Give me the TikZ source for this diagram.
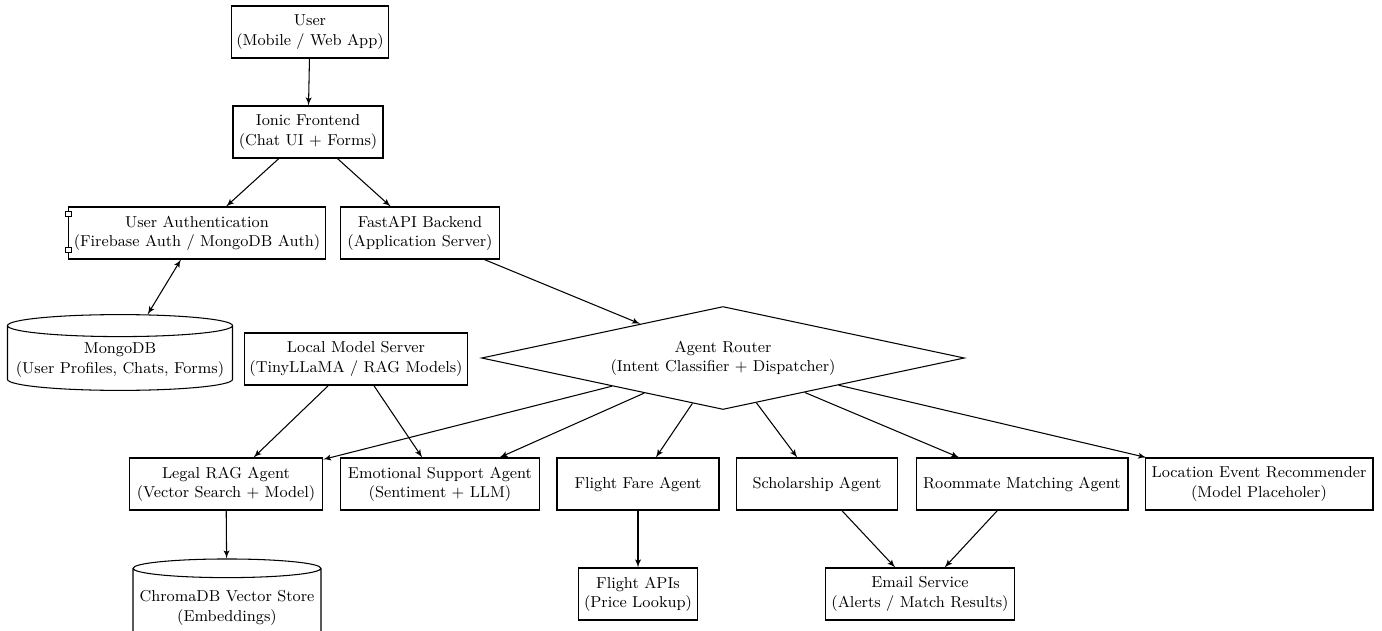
\documentclass[tikz,border=0pt]{standalone}
\usepackage{tikz}
\usetikzlibrary{arrows, shapes.geometric}
\tikzstyle{blk}=[draw, semithick, fill=white, font=\small, align=center, minimum height=1.04cm, inner xsep=0.1cm]
\tikzstyle{db}=[draw, semithick, cylinder, shape border rotate=90, aspect=0.1, font=\small, align=center]
\tikzstyle{router}=[draw, semithick, diamond, aspect=4.7, inner sep=0pt, font=\small, align=center, minimum width=9.66cm, minimum height=2.06cm]

\begin{document}
\begin{tikzpicture}[x=0.02cm,y=-0.02cm,auto,>=latex',semithick]
  \useasboundingbox (0,0) rectangle (1382,630);
  % top
  \node [blk, minimum width=3.08cm] (user) at (310,32) {User\\(Mobile / Web App)};
  \node [blk, minimum width=3cm] (ionic) at (308,132) {Ionic Frontend\\(Chat UI + Forms)};
  \node [blk, minimum width=5.06cm] (auth) at (197,233) {User Authentication\\(Firebase Auth / MongoDB Auth)};
  \node [blk, minimum width=3.18cm] (fastapi) at (420,233) {FastAPI Backend\\(Application Server)};
  \draw [fill=white] ([shift={(-3,5)}]auth.north west) rectangle ++(6,5);
  \draw [fill=white] ([shift={(-3,41)}]auth.north west) rectangle ++(6,5);
  % middle
  \node [db, minimum width=4.5cm, minimum height=1.4cm] (mongo) at (120,360) {MongoDB\\(User Profiles, Chats, Forms)};
  \node [blk, minimum width=4.18cm] (lms) at (356,359) {Local Model Server\\(TinyLLaMA / RAG Models)};
  \node [router] (router) at (723,358) {Agent Router\\(Intent Classifier + Dispatcher)};
  % agents
  \node [blk, minimum width=3.86cm] (legal) at (226,484) {Legal RAG Agent\\(Vector Search + Model)};
  \node [blk, minimum width=3.98cm] (emo) at (440,484) {Emotional Support Agent\\(Sentiment + LLM)};
  \node [blk, minimum width=3.24cm] (flight) at (638,484) {Flight Fare Agent};
  \node [blk, minimum width=3.22cm] (schol) at (817,484) {Scholarship Agent};
  \node [blk, minimum width=4.24cm] (room) at (1022,484) {Roommate Matching Agent};
  \node [blk, minimum width=4.56cm] (loc) at (1259,484) {Location Event Recommender\\(Model Placeholer)};
  % bottom
  \node [db, minimum width=3.76cm, minimum height=1.7cm] (chroma) at (227,608) {ChromaDB Vector Store\\(Embeddings)};
  \node [blk, minimum width=2.38cm] (fapis) at (638,594) {Flight APIs\\(Price Lookup)};
  \node [blk, minimum width=3.78cm] (email) at (920,594) {Email Service\\(Alerts / Match Results)};

  \path[->] (user) edge (ionic);
  \path[->] (ionic) edge (auth);
  \path[->] (ionic) edge (fastapi);
  \path[<->] (auth) edge (mongo);
  \path[->] (fastapi) edge (router);
  \path[->] (lms) edge (legal);
  \path[->] (lms) edge (emo);
  \path[->] (router) edge (legal);
  \path[->] (router) edge (emo);
  \path[->] (router) edge (flight);
  \path[->] (router) edge (schol);
  \path[->] (router) edge (room);
  \path[->] (router) edge (loc);
  \path[->] (legal) edge (chroma);
  \path[->] (flight) edge (fapis);
  \path[->] (schol) edge (email);
  \path[->] (room) edge (email);
\end{tikzpicture}
\end{document}
